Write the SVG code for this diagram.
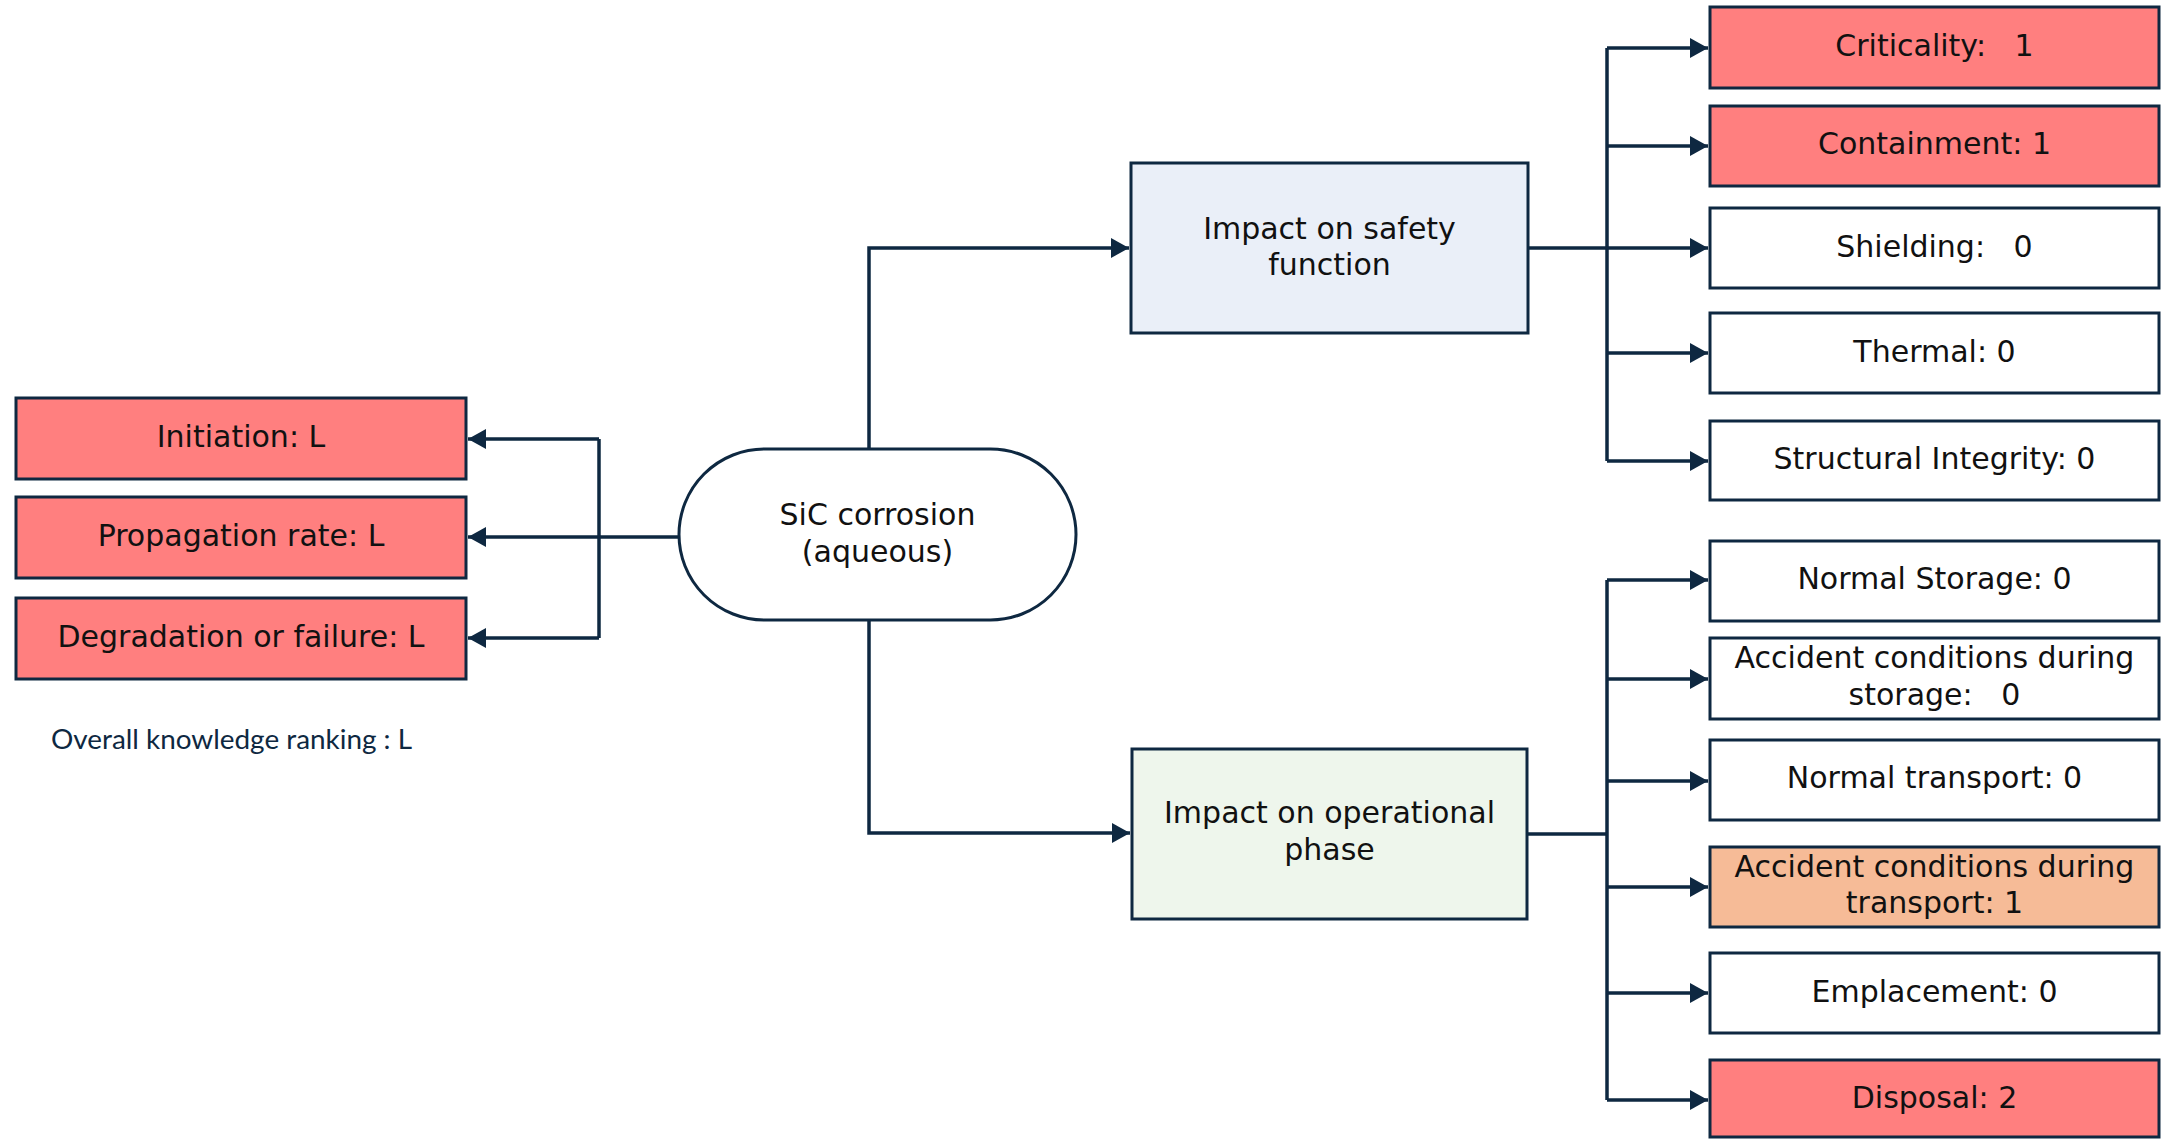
<svg xmlns="http://www.w3.org/2000/svg" width="2167" height="1139" viewBox="0 0 2167 1139">
  <style>
    .box { stroke: #0e2841; stroke-width: 3; }
    .red { fill: #ff7f7f; }
    .white { fill: #ffffff; }
    .peach { fill: #f6bb97; }
    .blue { fill: #eaeff8; }
    .green { fill: #eef6ec; }
    .lbl { font-family: "DejaVu Sans", Verdana, sans-serif; font-size: 30px; fill: #111111; text-anchor: middle; white-space: pre; }
    .note { font-family: Lato, "Liberation Sans", sans-serif; font-size: 26px; fill: #0e2841; }
    .wire { fill: none; stroke: #0e2841; stroke-width: 3.5; }
    .arr { marker-end: url(#head); }
  </style>
  <defs>
    <marker id="head" markerUnits="userSpaceOnUse" markerWidth="19" markerHeight="20" refX="18" refY="10" orient="auto">
      <path d="M0,0 L18,10 L0,20 Z" fill="#0e2841"/>
    </marker>
  </defs>

  <rect width="2167" height="1139" fill="#ffffff"/>

  <!-- connectors -->
  <g id="connectors">
    <path class="wire arr" d="M679,537 L468,537"/>
    <path class="wire" d="M599,439 L599,638"/>
    <path class="wire arr" d="M599,439 L468,439"/>
    <path class="wire arr" d="M599,638 L468,638"/>

    <path class="wire arr" d="M869,449 L869,248 L1129,248"/>
    <path class="wire arr" d="M869,620 L869,833 L1130,833"/>

    <path class="wire" d="M1528,248 L1607,248"/>
    <path class="wire" d="M1607,48 L1607,461"/>
    <path class="wire arr" d="M1607,48 L1708,48"/>
    <path class="wire arr" d="M1607,146 L1708,146"/>
    <path class="wire arr" d="M1607,248 L1708,248"/>
    <path class="wire arr" d="M1607,353 L1708,353"/>
    <path class="wire arr" d="M1607,461 L1708,461"/>

    <path class="wire" d="M1527,834 L1607,834"/>
    <path class="wire" d="M1607,580 L1607,1100"/>
    <path class="wire arr" d="M1607,580 L1708,580"/>
    <path class="wire arr" d="M1607,679 L1708,679"/>
    <path class="wire arr" d="M1607,781 L1708,781"/>
    <path class="wire arr" d="M1607,887 L1708,887"/>
    <path class="wire arr" d="M1607,993 L1708,993"/>
    <path class="wire arr" d="M1607,1100 L1708,1100"/>
  </g>

  <!-- left: knowledge ranking -->
  <g id="initiation">
    <rect class="box red" x="16" y="398" width="450" height="81"/>
    <text class="lbl" x="241" y="447">Initiation: L</text>
  </g>
  <g id="propagation">
    <rect class="box red" x="16" y="497" width="450" height="81"/>
    <text class="lbl" x="241" y="546">Propagation rate: L</text>
  </g>
  <g id="degradation">
    <rect class="box red" x="16" y="598" width="450" height="81"/>
    <text class="lbl" x="241" y="647">Degradation or failure: L</text>
  </g>
  <g id="overall">
    <text class="note" x="51" y="749" textLength="361" lengthAdjust="spacingAndGlyphs">Overall knowledge ranking : L</text>
  </g>

  <!-- centre -->
  <g id="sic-corrosion">
    <rect class="box white" x="679" y="449" width="397" height="171" rx="85.5" ry="85.5"/>
    <text class="lbl" x="877.5" y="525">SiC corrosion</text>
    <text class="lbl" x="877.5" y="562">(aqueous)</text>
  </g>

  <g id="safety-function">
    <rect class="box blue" x="1131" y="163" width="397" height="170"/>
    <text class="lbl" x="1329.5" y="239">Impact on safety</text>
    <text class="lbl" x="1329.5" y="275">function</text>
  </g>

  <g id="operational-phase">
    <rect class="box green" x="1132" y="749" width="395" height="170"/>
    <text class="lbl" x="1329.5" y="823">Impact on operational</text>
    <text class="lbl" x="1329.5" y="860">phase</text>
  </g>

  <!-- safety function outcomes -->
  <g id="criticality">
    <rect class="box red" x="1710" y="7" width="449" height="81"/>
    <text class="lbl" x="1934.5" y="56">Criticality:   1</text>
  </g>
  <g id="containment">
    <rect class="box red" x="1710" y="106" width="449" height="80"/>
    <text class="lbl" x="1934.5" y="154">Containment: 1</text>
  </g>
  <g id="shielding">
    <rect class="box white" x="1710" y="208" width="449" height="80"/>
    <text class="lbl" x="1934.5" y="257">Shielding:   0</text>
  </g>
  <g id="thermal">
    <rect class="box white" x="1710" y="313" width="449" height="80"/>
    <text class="lbl" x="1934.5" y="362">Thermal: 0</text>
  </g>
  <g id="structural-integrity">
    <rect class="box white" x="1710" y="421" width="449" height="79"/>
    <text class="lbl" x="1934.5" y="469">Structural Integrity: 0</text>
  </g>

  <!-- operational phase outcomes -->
  <g id="normal-storage">
    <rect class="box white" x="1710" y="541" width="449" height="80"/>
    <text class="lbl" x="1934.5" y="589">Normal Storage: 0</text>
  </g>
  <g id="accident-storage">
    <rect class="box white" x="1710" y="638" width="449" height="81"/>
    <text class="lbl" x="1934.5" y="668">Accident conditions during</text>
    <text class="lbl" x="1934.5" y="705">storage:   0</text>
  </g>
  <g id="normal-transport">
    <rect class="box white" x="1710" y="740" width="449" height="80"/>
    <text class="lbl" x="1934.5" y="788">Normal transport: 0</text>
  </g>
  <g id="accident-transport">
    <rect class="box peach" x="1710" y="847" width="449" height="80"/>
    <text class="lbl" x="1934.5" y="877">Accident conditions during</text>
    <text class="lbl" x="1934.5" y="913">transport: 1</text>
  </g>
  <g id="emplacement">
    <rect class="box white" x="1710" y="953" width="449" height="80"/>
    <text class="lbl" x="1934.5" y="1002">Emplacement: 0</text>
  </g>
  <g id="disposal">
    <rect class="box red" x="1710" y="1060" width="449" height="77"/>
    <text class="lbl" x="1934.5" y="1108">Disposal: 2</text>
  </g>
</svg>
